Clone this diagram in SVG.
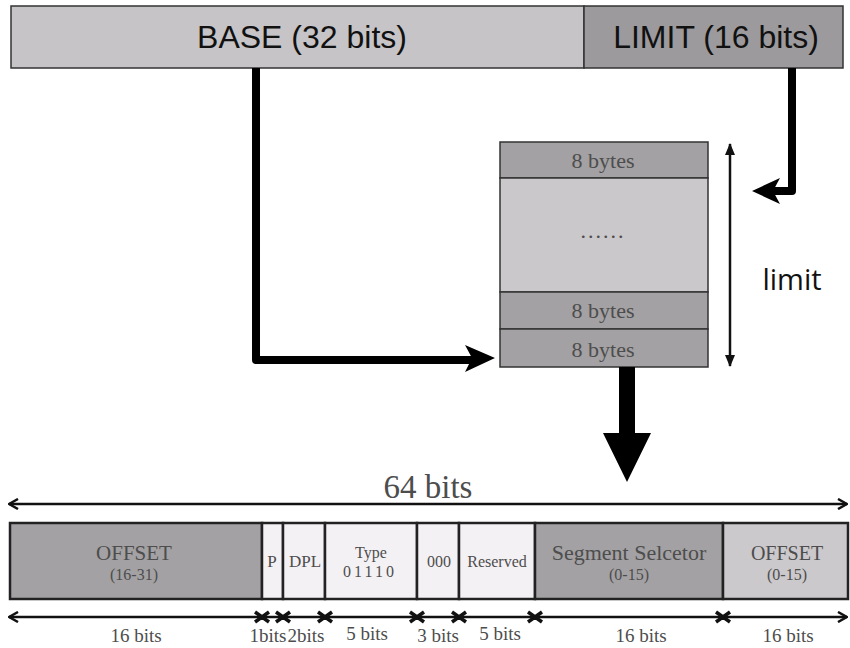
<svg xmlns="http://www.w3.org/2000/svg" width="850" height="648" viewBox="0 0 850 648">
  <style>
    .bar { stroke: #333; stroke-width: 1.5; }
    .cell { stroke: #222; stroke-width: 2.5; }
    .sans { font-family: "Liberation Sans", Arial, sans-serif; fill: #111; }
    .serif { font-family: "Liberation Serif", "Times New Roman", serif; fill: #4d4d4d; text-anchor: middle; }
    .conn { fill: none; stroke: #000; stroke-width: 8; stroke-linejoin: round; }
    .thin { fill: none; stroke: #111; stroke-width: 2.5; }
    .cross { stroke: #111; stroke-width: 3.5; }
  </style>
  <defs>
    <marker id="chev" viewBox="0 0 12 12" refX="11" refY="6" markerWidth="12" markerHeight="12" markerUnits="userSpaceOnUse" orient="auto-start-reverse">
      <path d="M2,1 L11,6 L2,11" fill="none" stroke="#111" stroke-width="2.5"/>
    </marker>
    <marker id="tri" viewBox="0 0 12 12" refX="11" refY="6" markerWidth="12" markerHeight="12" markerUnits="userSpaceOnUse" orient="auto-start-reverse">
      <path d="M0,1 L12,6 L0,11 Z" fill="#111"/>
    </marker>
  </defs>

  <rect width="850" height="648" fill="#fff"/>

  <!-- Descriptor register: base and limit -->
  <g id="base">
    <rect class="bar" x="11" y="6" width="573" height="62" fill="#c6c4c6"/>
    <text class="sans" x="302" y="48" font-size="32" text-anchor="middle">BASE (32 bits)</text>
  </g>
  <g id="limit-field">
    <rect class="bar" x="584" y="6" width="259" height="62" fill="#9c9a9c"/>
    <text class="sans" x="716" y="48" font-size="32" text-anchor="middle">LIMIT (16 bits)</text>
  </g>

  <!-- Descriptor table in memory -->
  <g id="table">
    <rect class="bar" x="500" y="142" width="208" height="36" fill="#a3a1a3"/>
    <rect class="bar" x="500" y="178" width="208" height="114" fill="#cac8ca"/>
    <rect class="bar" x="500" y="292" width="208" height="37" fill="#a3a1a3"/>
    <rect class="bar" x="500" y="329" width="208" height="38" fill="#a3a1a3"/>
    <text class="serif" x="603" y="168" font-size="22">8 bytes</text>
    <text class="serif" x="603" y="238" font-size="22" letter-spacing="2">......</text>
    <text class="serif" x="603" y="318" font-size="22">8 bytes</text>
    <text class="serif" x="603" y="357" font-size="22">8 bytes</text>
  </g>

  <g id="limit-label">
    <line class="thin" x1="730" y1="144" x2="730" y2="366" stroke-width="2" marker-start="url(#tri)" marker-end="url(#tri)"/>
    <text x="792" y="290" font-family="'Open Sans', 'Liberation Sans', sans-serif" font-size="29" fill="#111" text-anchor="middle">limit</text>
  </g>

  <!-- Gate descriptor layout -->
  <g id="width-64">
    <line class="thin" x1="9" y1="504" x2="847" y2="504" marker-start="url(#chev)" marker-end="url(#chev)"/>
    <text class="serif" x="428" y="498" font-size="33" fill="#444">64 bits</text>
  </g>

  <g id="gate">
    <rect class="cell" x="10" y="523" width="252" height="76" fill="#a3a1a3"/>
    <rect class="cell" x="262" y="523" width="21" height="76" fill="#f4f1f4"/>
    <rect class="cell" x="283" y="523" width="42" height="76" fill="#f4f1f4"/>
    <rect class="cell" x="325" y="523" width="92" height="76" fill="#f4f1f4"/>
    <rect class="cell" x="417" y="523" width="42" height="76" fill="#f4f1f4"/>
    <rect class="cell" x="459" y="523" width="76" height="76" fill="#f4f1f4"/>
    <rect class="cell" x="535" y="523" width="188" height="76" fill="#a3a1a3"/>
    <rect class="cell" x="723" y="523" width="125" height="76" fill="#cbc9cb"/>

    <text class="serif" x="134" y="560" font-size="21">OFFSET</text>
    <text class="serif" x="134" y="580" font-size="16">(16-31)</text>
    <text class="serif" x="272" y="567" font-size="17">P</text>
    <text class="serif" x="305" y="567" font-size="17">DPL</text>
    <text class="serif" x="371" y="558" font-size="16">Type</text>
    <text class="serif" x="370" y="577" font-size="16" letter-spacing="3">01110</text>
    <text class="serif" x="439" y="567" font-size="16">000</text>
    <text class="serif" x="497" y="567" font-size="16">Reserved</text>
    <text class="serif" x="629" y="560" font-size="22">Segment Selcetor</text>
    <text class="serif" x="629" y="580" font-size="16">(0-15)</text>
    <text class="serif" x="787" y="560" font-size="20">OFFSET</text>
    <text class="serif" x="787" y="580" font-size="16">(0-15)</text>
  </g>

  <g id="field-widths">
    <line class="thin" x1="9" y1="617" x2="847" y2="617" marker-start="url(#chev)" marker-end="url(#chev)"/>
    <path class="cross" d="M255,612 l14,10 m0,-10 l-14,10
                          M276,612 l14,10 m0,-10 l-14,10
                          M318,612 l14,10 m0,-10 l-14,10
                          M410,612 l14,10 m0,-10 l-14,10
                          M452,612 l14,10 m0,-10 l-14,10
                          M528,612 l14,10 m0,-10 l-14,10
                          M716,612 l14,10 m0,-10 l-14,10"/>
    <text class="serif" x="136" y="642" font-size="19">16 bits</text>
    <text class="serif" x="268" y="642" font-size="19">1bits</text>
    <text class="serif" x="306" y="642" font-size="19">2bits</text>
    <text class="serif" x="367" y="640" font-size="19">5 bits</text>
    <text class="serif" x="438" y="642" font-size="19">3 bits</text>
    <text class="serif" x="500" y="640" font-size="19">5 bits</text>
    <text class="serif" x="641" y="642" font-size="19">16 bits</text>
    <text class="serif" x="788" y="642" font-size="19">16 bits</text>
  </g>

  <!-- Connectors -->
  <g id="connectors">
    <path class="conn" d="M256,68 V360 H472"/>
    <polygon points="495,358 465,345 472,358 465,372" fill="#000"/>
    <path class="conn" d="M792,68 V191 H772"/>
    <polygon points="752,191 780,178 773,191 780,204" fill="#000"/>
    <polygon points="619,367 635,367 635,433 651,433 627,482 603,433 619,433" fill="#000"/>
  </g>
</svg>
